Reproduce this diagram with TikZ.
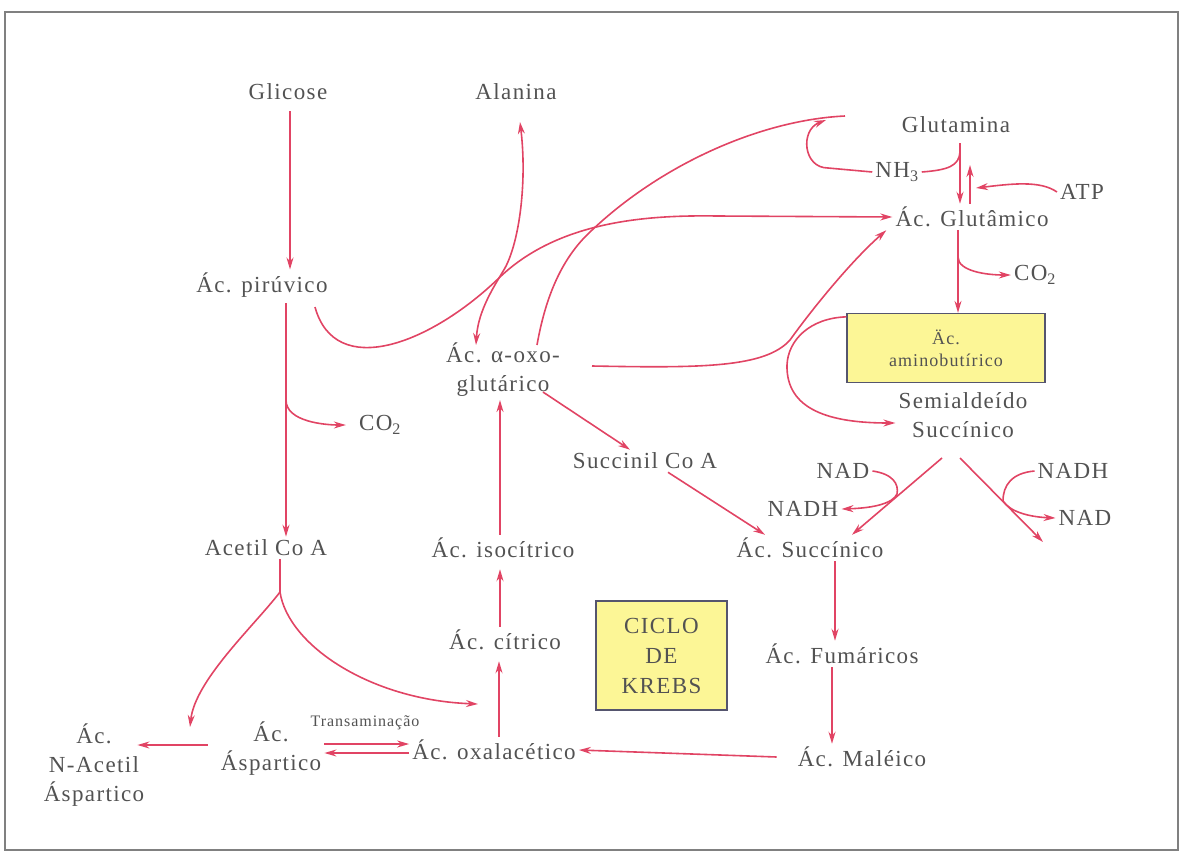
\documentclass[tikz,border=0pt]{standalone}
\usepackage{fontspec}
\setmainfont{Liberation Serif}[LetterSpace=6]
\usetikzlibrary{arrows.meta}
\usetikzlibrary{positioning}
\definecolor{vermelho}{RGB}{225,68,100}
\definecolor{texto}{RGB}{82,82,82}
\definecolor{amarelo}{RGB}{252,246,150}
\definecolor{borda}{RGB}{85,85,110}

\begin{document}
\begin{tikzpicture}[x=1pt, y=-1pt,
    every node/.style={text=texto, font=\fontsize{23}{29}\selectfont, inner sep=3pt, align=center},
    seta/.style={draw=vermelho, line width=1.6pt, -{Stealth[length=12pt,width=7pt]}},
    duplaseta/.style={draw=vermelho, line width=1.6pt, {Stealth[length=12pt,width=7pt]}-{Stealth[length=12pt,width=7pt]}},
    linha/.style={draw=vermelho, line width=1.6pt},
    caixa/.style={draw=borda, line width=1.3pt, fill=amarelo},
    pequeno/.style={font=\fontsize{16}{20}\selectfont}]
        \useasboundingbox (0,0) rectangle (1184,854);
        \draw [gray, line width=1.5pt] (5,12) rectangle (1178,850);

        % substancias
        \node (glicose) at (288,92) {Glicose};
        \node (alanina) at (516,92) {Alanina};
        \node (glutamina) at (956,125) {Glutamina};
        \node (nhtres) at (897,172) {NH\textsubscript{3}};
        \node (atp) at (1082,192) {ATP};
        \node (glutamico) at (972,217) {Ác. Glutâmico};
        \node (cotop) at (1035,275) {CO\textsubscript{2}};
        \node (piruvico) at (262,285) {Ác. pirúvico};
        \node [caixa, minimum width=198pt, minimum height=69pt, font=\fontsize{18}{22}\selectfont] (gaba) at (946,348) {Äc.\\aminobutírico};
        \node (semialdeido) at (963,415) {Semialdeído\\Succínico};
        \node (oxo) at (503,370) {Ác. α-oxo-\\glutárico};
        \node (coleft) at (380,425) {CO\textsubscript{2}};
        \node (succinil) at (645,461) {Succinil Co A};
        \node (nadl) at (843,471) {NAD};
        \node (nadhl) at (803,509) {NADH};
        \node (nadhr) at (1073,471) {NADH};
        \node (nadr) at (1085,518) {NAD};
        \node (acetil) at (266,548) {Acetil Co A};
        \node (isocitrico) at (503,548) {Ác. isocítrico};
        \node (succinico) at (810,548) {Ác. Succínico};
        \node [caixa, minimum width=131pt, minimum height=109pt, font=\fontsize{23}{30}\selectfont] (krebs) at (661.5,655.5) {CICLO\\DE\\KREBS};
        \node (citrico) at (505,640) {Ác. cítrico};
        \node (fumarico) at (842,654) {Ác. Fumáricos};
        \node (nacetil) at (94,765) {Ác.\\N-Acetil\\Áspartico};
        \node (aspartico) at (271,749) {Ác.\\Áspartico};
        \node [pequeno] (transam) at (365,723) {Transaminação};
        \node (oxalacetico) at (494,750) {Ác. oxalacético};
        \node (maleico) at (862,757) {Ác. Maléico};

        % pontos livres
        \coordinate (pvb) at (286,303);
        \coordinate (cob) at (286,400);
        \coordinate (pvr) at (315,307);
        \coordinate (acb) at (280,592);
        \coordinate (naa) at (190,727);
        \coordinate (oxa) at (478,704);
        \coordinate (oxl) at (476,345);
        \coordinate (ala) at (520,122);
        \coordinate (oxm) at (537,345);
        \coordinate (topo) at (845,116);
        \coordinate (oxr) at (592,366);
        \coordinate (gtd) at (960,143);
        \coordinate (gup) at (970,165);
        \coordinate (cgb) at (958,257);
        \coordinate (sl) at (942,458);
        \coordinate (jl) at (897,494);
        \coordinate (sr) at (960,458);
        \coordinate (jr) at (1003,501);
        \coordinate (sre) at (1043,542);

        % glicolise
        \draw [seta, shorten <=8pt] ([xshift=2pt]glicose.south) -- ([xshift=2pt]glicose.south |- piruvico.north);
        \draw [seta] (pvb) -- (pvb |- acetil.north);
        \draw [seta, shorten >=10pt] (cob) .. controls +(0,22) and +(-30,0) .. (coleft.west);
        \draw [seta] (pvr) .. controls (335,380) and (430,345) .. (500,277) .. controls (560,220) and (650,215) .. (717,216) -- (glutamico.west);

        % acetil co a
        \draw [linha] (acetil.south -| acb) -- (acb);
        \draw [seta] (acb) .. controls (255,625) and (195,680) .. (naa);
        \draw [seta] (acb) .. controls (288,645) and (370,700) .. (oxa);
        \draw [seta, shorten <=10pt, shorten >=-10pt] ([yshift=4pt]aspartico.west) -- ([yshift=4pt]aspartico.west -| nacetil.east);
        \draw [seta] ([yshift=5pt]aspartico.east) -- ([yshift=5pt]aspartico.east -| oxalacetico.west);
        \draw [seta] ([yshift=-4pt]aspartico.east -| oxalacetico.west) -- ([yshift=-4pt]aspartico.east);

        % ciclo de krebs
        \draw [seta] ([xshift=-18pt]maleico.west) -- (oxalacetico.east);
        \draw [seta, shorten >=8pt] ([xshift=5pt]oxalacetico.north) -- ([xshift=5pt]oxalacetico.north |- citrico.south);
        \draw [seta, shorten >=8pt] ([xshift=-5pt]citrico.north) -- ([xshift=-5pt]citrico.north |- isocitrico.south);
        \draw [seta] ([xshift=-3pt]isocitrico.north) -- ([xshift=-3pt]isocitrico.north |- oxo.south);
        \draw [seta] ([xshift=40pt,yshift=8pt]oxo.south) -- ([xshift=-15pt]succinil.north);
        \draw [seta] ([xshift=23pt]succinil.south) -- ([xshift=-45pt]succinico.north);
        \draw [seta] ([xshift=25pt]succinico.south) -- ([xshift=25pt]succinico.south |- fumarico.north);
        \draw [seta] ([xshift=-10pt]fumarico.south) -- ([xshift=-10pt]fumarico.south |- maleico.north);

        % alanina e glutamina
        \draw [duplaseta] (oxl) .. controls (478,310) and (495,285) .. (505,268) .. controls (520,240) and (527,180) .. (ala);
        \draw [linha] (oxm) .. controls (545,300) and (560,260) .. (590,232) .. controls (660,165) and (760,120) .. (topo);
        \draw [seta] (nhtres.west) -- (828,168) .. controls (803,168) and (800,130) .. (826,120);
        \draw [linha] (960,152) .. controls (959,166) and (948,170) .. (nhtres.east);
        \draw [seta] (gtd) -- (gtd |- glutamico.north);
        \draw [seta] (gup |- glutamico.north) -- (gup);
        \draw [seta] (atp.west) .. controls (1040,180) and (1010,184) .. (976,188);
        \draw [seta] (oxr) .. controls (700,368) and (765,368) .. (790,340) .. controls (810,312) and (850,262) .. ([xshift=-6pt]glutamico.south west);

        % gaba e semialdeido
        \draw [seta] ([xshift=-14pt]glutamico.south) -- ([xshift=-14pt]glutamico.south |- gaba.north);
        \draw [seta] (cgb) .. controls +(0,14) and +(-25,0) .. (cotop.west);
        \draw [seta] ([yshift=-4pt]gaba.north west) .. controls (810,318) and (788,340) .. (787,365) .. controls (786,410) and (830,423) .. ([yshift=-8pt]semialdeido.west);
        \draw [seta] (sl) -- ([xshift=42pt]succinico.north);
        \draw [seta] (nadl.east) .. controls (893,474) and (899,484) .. (jl) .. controls (893,503) and (875,508) .. (nadhl.east);
        \draw [seta] (sr) -- (sre);
        \draw [seta] (nadhr.west) .. controls (1012,473) and (1003,485) .. (jr) .. controls (1010,512) and (1030,517) .. (nadr.west);
      \end{tikzpicture}
\end{document}
